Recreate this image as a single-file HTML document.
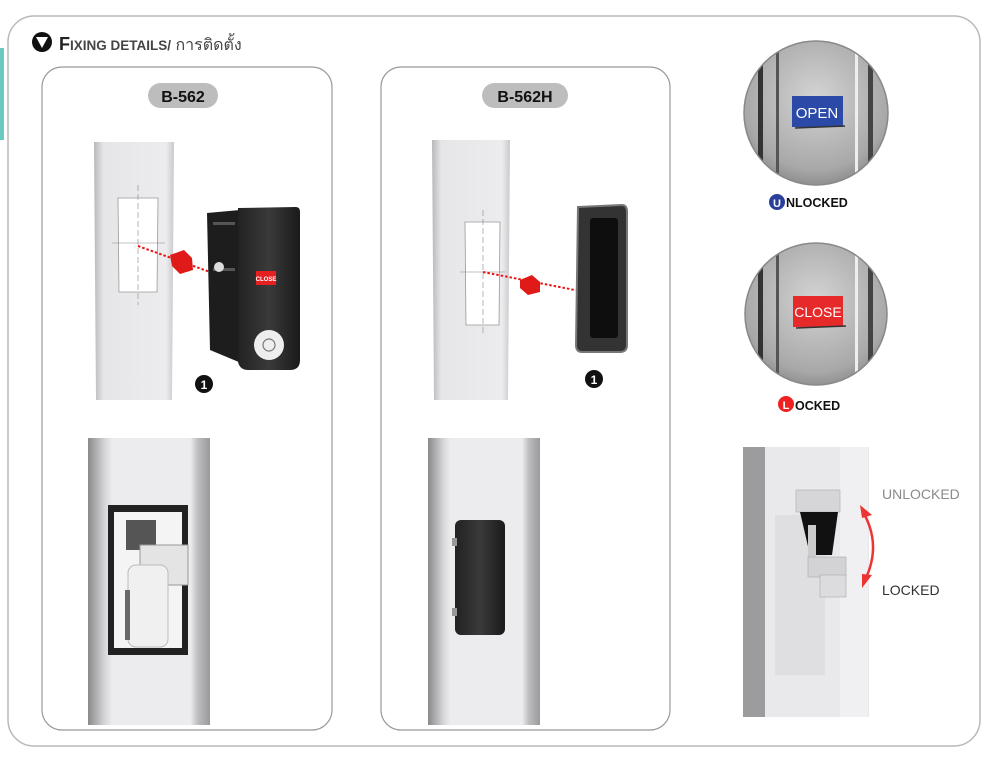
<!DOCTYPE html>
<html><head><meta charset="utf-8"><style>
html,body{margin:0;padding:0;background:#fff;}
svg{display:block;font-family:"Liberation Sans",sans-serif;}
</style></head><body>
<svg width="989" height="757" viewBox="0 0 989 757" xmlns="http://www.w3.org/2000/svg">
<defs>
<linearGradient id="post" x1="0" x2="1"><stop offset="0" stop-color="#b8b8ba"/><stop offset="0.12" stop-color="#e6e6e8"/><stop offset="0.9" stop-color="#ececee"/><stop offset="1" stop-color="#c9c9cb"/></linearGradient>
<linearGradient id="post2" x1="0" x2="1"><stop offset="0" stop-color="#8a8a8c"/><stop offset="0.14" stop-color="#d7d7d9"/><stop offset="0.2" stop-color="#ececee"/><stop offset="0.84" stop-color="#ececee"/><stop offset="0.9" stop-color="#bdbdbf"/><stop offset="1" stop-color="#9a9a9c"/></linearGradient>
<radialGradient id="metal" cx="0.5" cy="0.4" r="0.6"><stop offset="0" stop-color="#d4d4d4"/><stop offset="0.8" stop-color="#a8a8a8"/><stop offset="1" stop-color="#8a8a8a"/></radialGradient>
<linearGradient id="blk" x1="0" x2="1"><stop offset="0" stop-color="#222"/><stop offset="0.5" stop-color="#3a3a3a"/><stop offset="1" stop-color="#1a1a1a"/></linearGradient>
<clipPath id="c1"><circle cx="816" cy="113" r="72"/></clipPath>
<clipPath id="c2"><circle cx="816" cy="314" r="71"/></clipPath>
</defs>
<rect x="8" y="16" width="972" height="730" rx="26" fill="#fff" stroke="#b9b9b9" stroke-width="1.5"/>
<rect x="0" y="48" width="4" height="92" fill="#6cc9c2"/>
<circle cx="42" cy="42" r="10" fill="#111"/>
<polygon points="36,37 48,37 42,48" fill="#fff"/>
<text x="59" y="50" font-size="18" font-weight="bold" fill="#222">F<tspan font-size="13.5" fill="#444">IXING DETAILS/</tspan><tspan font-size="16" font-weight="normal" fill="#444"> การติดตั้ง</tspan></text>

<rect x="42" y="67" width="290" height="663" rx="20" fill="#fff" stroke="#999" stroke-width="1.2"/>
<rect x="148" y="83" width="70" height="25" rx="12.5" fill="#bdbdbd"/>
<text x="183" y="102" font-size="16" font-weight="bold" text-anchor="middle" fill="#111">B-562</text>
<polygon points="94,142 174,142 172,400 96,400" fill="url(#post)"/>
<polygon points="118,198 158,198 157,292 119,292" fill="#fff" stroke="#999" stroke-width="0.8"/>
<line x1="138" y1="185" x2="138" y2="305" stroke="#888" stroke-width="0.6" stroke-dasharray="6,3"/>
<line x1="112" y1="243" x2="165" y2="243" stroke="#888" stroke-width="0.6"/>
<line x1="138" y1="246" x2="210" y2="272" stroke="#e11" stroke-width="2" stroke-dasharray="2.5,2"/>
<polygon points="170,255 184,250 192,258 193,270 180,274 172,266" fill="#e01919"/>
<polygon points="207,213 240,210 246,365 210,350" fill="#1d1d1d"/>
<rect x="213" y="222" width="22" height="3" fill="#555"/><rect x="213" y="268" width="22" height="3" fill="#555"/>
<circle cx="219" cy="267" r="5" fill="#ddd"/>
<path d="M238 208 L296 207 Q300 207 300 212 L300 360 Q300 370 290 370 L248 370 Q240 370 238 362 Z" fill="url(#blk)"/>
<rect x="256" y="271" width="20" height="14" fill="#e62020"/>
<text x="266" y="281" font-size="6" font-weight="bold" text-anchor="middle" fill="#fff">CLOSE</text>
<circle cx="269" cy="345" r="15" fill="#eee"/>
<circle cx="269" cy="345" r="6" fill="none" stroke="#777" stroke-width="1.2"/>
<circle cx="204" cy="384" r="9" fill="#111"/>
<text x="204" y="389" font-size="12" font-weight="bold" text-anchor="middle" fill="#fff">1</text>
<rect x="88" y="438" width="122" height="287" fill="url(#post2)"/>
<rect x="108" y="505" width="80" height="150" fill="#222"/>
<rect x="114" y="512" width="68" height="136" fill="#f4f4f4"/>
<rect x="126" y="520" width="30" height="30" fill="#555"/>
<rect x="140" y="545" width="48" height="40" fill="#e4e4e4" stroke="#999"/>
<rect x="128" y="565" width="40" height="82" rx="8" fill="#f0f0f0" stroke="#bbb"/>
<rect x="125" y="590" width="5" height="50" fill="#666"/>

<rect x="381" y="67" width="289" height="663" rx="20" fill="#fff" stroke="#999" stroke-width="1.2"/>
<rect x="482" y="83" width="86" height="25" rx="12.5" fill="#bdbdbd"/>
<text x="525" y="102" font-size="16" font-weight="bold" text-anchor="middle" fill="#111">B-562H</text>
<polygon points="432,140 510,140 508,400 434,400" fill="url(#post)"/>
<polygon points="465,222 500,222 499,325 466,325" fill="#fff" stroke="#999" stroke-width="0.8"/>
<line x1="483" y1="210" x2="483" y2="335" stroke="#888" stroke-width="0.6" stroke-dasharray="6,3"/>
<line x1="460" y1="272" x2="505" y2="272" stroke="#888" stroke-width="0.6"/>
<line x1="483" y1="272" x2="585" y2="292" stroke="#e11" stroke-width="2" stroke-dasharray="2.5,2"/>
<polygon points="520,280 532,275 540,282 540,292 528,295 520,288" fill="#e01919"/>
<path d="M578 207 L622 205 Q627 205 627 212 L627 345 Q627 352 620 352 L582 352 Q576 352 576 345 Z" fill="#333" stroke="#777" stroke-width="2"/>
<rect x="590" y="218" width="28" height="120" rx="3" fill="#0e0e0e"/>
<circle cx="594" cy="379" r="9" fill="#111"/>
<text x="594" y="384" font-size="12" font-weight="bold" text-anchor="middle" fill="#fff">1</text>
<rect x="428" y="438" width="112" height="287" fill="url(#post2)"/>
<rect x="455" y="520" width="50" height="115" rx="6" fill="url(#blk)"/>
<rect x="452" y="538" width="5" height="8" fill="#999"/><rect x="452" y="608" width="5" height="8" fill="#999"/>

<g clip-path="url(#c1)"><rect x="740" y="38" width="152" height="150" fill="url(#metal)"/>
<rect x="758" y="38" width="5" height="150" fill="#333"/><rect x="868" y="38" width="5" height="150" fill="#444"/>
<rect x="776" y="38" width="3" height="150" fill="#555"/><rect x="855" y="38" width="3" height="150" fill="#eee"/></g>
<circle cx="816" cy="113" r="72" fill="none" stroke="#888" stroke-width="1.5"/>
<rect x="792" y="96" width="51" height="31" fill="#2b4aa8"/>
<line x1="795" y1="128" x2="845" y2="126" stroke="#333" stroke-width="1.5"/>
<text x="817" y="118" font-size="15" text-anchor="middle" fill="#fff">OPEN</text>
<circle cx="777" cy="202" r="8" fill="#2a3f9a"/>
<text x="777" y="207" font-size="11" font-weight="bold" text-anchor="middle" fill="#fff">U</text>
<text x="786" y="207" font-size="12.5" font-weight="bold" fill="#111">NLOCKED</text>

<g clip-path="url(#c2)"><rect x="740" y="240" width="152" height="150" fill="url(#metal)"/>
<rect x="758" y="240" width="5" height="150" fill="#333"/><rect x="868" y="240" width="5" height="150" fill="#444"/>
<rect x="776" y="240" width="3" height="150" fill="#555"/><rect x="855" y="240" width="3" height="150" fill="#eee"/></g>
<circle cx="816" cy="314" r="71" fill="none" stroke="#888" stroke-width="1.5"/>
<rect x="793" y="296" width="50" height="31" fill="#e62a2a"/>
<line x1="796" y1="328" x2="846" y2="326" stroke="#333" stroke-width="1.5"/>
<text x="818" y="317" font-size="14" text-anchor="middle" fill="#fff">CLOSE</text>
<circle cx="786" cy="404" r="8" fill="#e22"/>
<text x="786" y="409" font-size="11" font-weight="bold" text-anchor="middle" fill="#fff">L</text>
<text x="795" y="410" font-size="12.5" font-weight="bold" fill="#111">OCKED</text>

<rect x="743" y="447" width="126" height="270" fill="#e9e9eb"/>
<rect x="743" y="447" width="22" height="270" fill="#9c9c9e"/>
<rect x="840" y="447" width="28" height="270" fill="#f0f0f2"/>
<rect x="775" y="515" width="50" height="160" fill="#dfdfe1"/>
<rect x="796" y="490" width="44" height="22" fill="#d6d6d8" stroke="#aaa" stroke-width="0.6"/>
<polygon points="800,512 838,512 832,555 810,555" fill="#111"/>
<rect x="808" y="525" width="8" height="40" fill="#ccc"/>
<rect x="808" y="557" width="38" height="20" fill="#d3d3d5" stroke="#aaa" stroke-width="0.6"/>
<rect x="820" y="575" width="26" height="22" fill="#dcdcde" stroke="#aaa" stroke-width="0.6"/>
<path d="M863 512 Q882 545 865 580" fill="none" stroke="#e33" stroke-width="2.5"/>
<polygon points="860,505 872,515 862,518" fill="#e33"/>
<polygon points="862,588 872,575 862,574" fill="#e33"/>
<text x="882" y="499" font-size="14" fill="#8a8a8a">UNLOCKED</text>
<text x="882" y="595" font-size="14" fill="#333">LOCKED</text>
</svg>
</body></html>
